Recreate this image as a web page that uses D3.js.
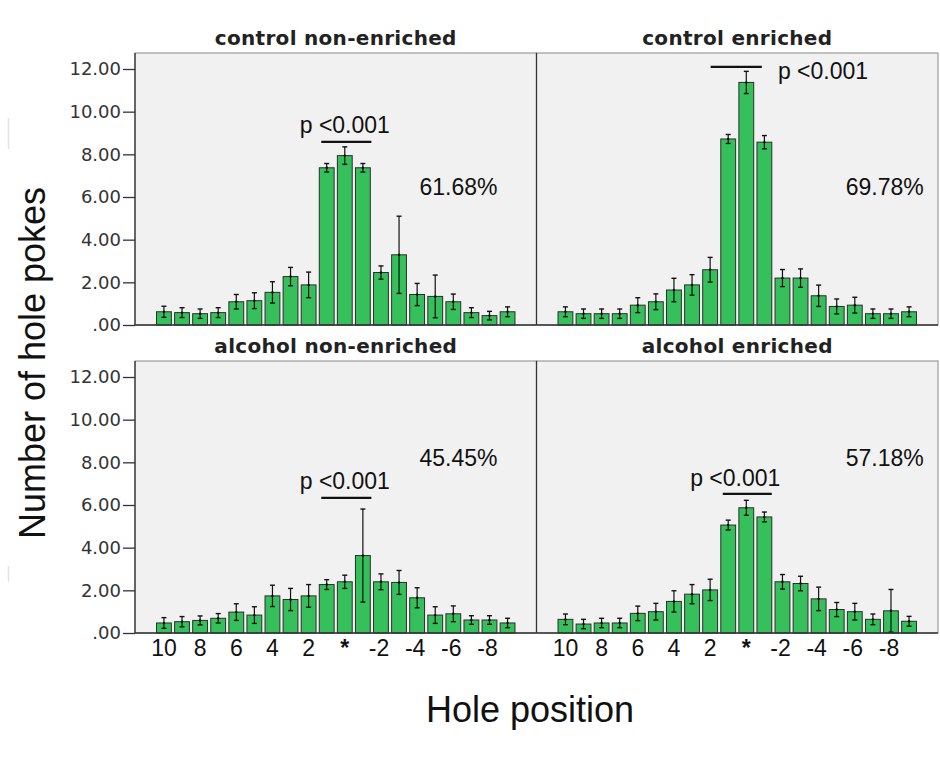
<!DOCTYPE html>
<html>
<head>
<meta charset="utf-8">
<script src="https://cdn.jsdelivr.net/npm/d3@7"></script>
<style>
  body { margin: 0; background: #fff; }
  svg { display: block; }
</style>
</head>
<body>
<svg id="chart" width="940" height="758"></svg>
<script>
// ---------- data ----------
const categories = ["10","9","8","7","6","5","4","3","2","1","*","-1","-2","-3","-4","-5","-6","-7","-8","-9"];
const xTickLabels = ["10","8","6","4","2","*","-2","-4","-6","-8"];
const yTicks = [0, 2, 4, 6, 8, 10, 12];
const panelTitles = ["control non-enriched", "control enriched", "alcohol non-enriched", "alcohol enriched"];

const controlNonEnriched    = [0.62,0.58,0.53,0.58,1.09,1.14,1.53,2.27,1.88,7.37,7.94,7.37,2.46,3.29,1.43,1.34,1.09,0.58,0.44,0.62];
const controlNonEnrichedErr = [0.26,0.23,0.22,0.23,0.34,0.37,0.50,0.43,0.60,0.20,0.41,0.20,0.31,1.81,0.52,1.00,0.36,0.23,0.20,0.23];
const controlEnriched       = [0.62,0.53,0.53,0.53,0.93,1.09,1.64,1.88,2.59,8.72,11.37,8.57,2.20,2.20,1.37,0.87,0.93,0.53,0.53,0.62];
const controlEnrichedErr    = [0.23,0.22,0.22,0.22,0.35,0.37,0.55,0.48,0.58,0.21,0.52,0.31,0.40,0.43,0.50,0.35,0.37,0.22,0.22,0.23];
const alcoholNonEnriched    = [0.47,0.53,0.59,0.69,0.98,0.84,1.74,1.57,1.74,2.27,2.40,3.63,2.40,2.37,1.65,0.84,0.90,0.61,0.61,0.47];
const alcoholNonEnrichedErr = [0.25,0.24,0.21,0.22,0.39,0.39,0.50,0.52,0.53,0.23,0.31,2.18,0.37,0.56,0.47,0.39,0.37,0.20,0.20,0.22];
const alcoholEnriched       = [0.64,0.42,0.47,0.47,0.92,1.00,1.48,1.82,2.02,5.06,5.87,5.44,2.40,2.32,1.60,1.10,1.00,0.64,1.04,0.55];
const alcoholEnrichedErr    = [0.25,0.22,0.22,0.22,0.34,0.39,0.50,0.45,0.50,0.23,0.35,0.23,0.34,0.34,0.55,0.33,0.39,0.25,1.00,0.23];

const percentLabels = ["61.68%", "69.78%", "45.45%", "57.18%"];
// annotation anchors: bar-index positions and data-unit heights
const percentIndex = [14.13, 15.5, 14.13, 15.5];
const percentValue = [6.1, 6.1, 7.83, 7.83];
const pTextIndex   = [10.0, 11.75, 10.0, 9.39];     // centre (or start for panel 2)
const pTextAnchor  = ["middle", "start", "middle", "middle"];
const pTextValue   = [9.0, 11.55, 6.75, 6.9];
const pLineFrom    = [8.7, 8.03, 8.7, 8.7];
const pLineTo      = [11.47, 10.86, 11.47, 11.41];
const pLineValue   = [8.58, 12.1, 6.33, 6.52];

const means = [controlNonEnriched, controlEnriched, alcoholNonEnriched, alcoholEnriched];
const errs  = [controlNonEnrichedErr, controlEnrichedErr, alcoholNonEnrichedErr, alcoholEnrichedErr];

// ---------- layout ----------
const svg = d3.select("#chart");
const panelW = 401.5, panelH = 272;
const left0 = 135, top0 = 53, rowGap = 308;
const colors = { fill: "#36c05b", stroke: "#2d2d2d", bg: "#f1f1f1" };

const x = d3.scaleBand().domain(categories).range([0, panelW]).paddingInner(0.18).paddingOuter(1.19);
const xi = d3.scaleLinear().domain([0, 19])
  .range([x(categories[0]) + x.bandwidth() / 2, x(categories[19]) + x.bandwidth() / 2]);
const y = d3.scaleLinear().domain([0, 12.75]).range([panelH, 0]);

// faint artefact lines at far left
svg.append("line").attr("x1", 8.5).attr("x2", 8.5).attr("y1", 118).attr("y2", 149).attr("stroke", "#e2e2e2").attr("stroke-width", 1.5);
svg.append("line").attr("x1", 8.5).attr("x2", 8.5).attr("y1", 566).attr("y2", 582).attr("stroke", "#e2e2e2").attr("stroke-width", 1.5);

panelTitles.forEach((title, p) => {
  const col = p % 2, row = Math.floor(p / 2);
  const g = svg.append("g").attr("transform", `translate(${left0 + col * panelW},${top0 + row * rowGap})`);

  g.append("rect").attr("x", 0).attr("y", 0).attr("width", panelW).attr("height", panelH)
    .attr("fill", colors.bg).attr("stroke", "#8a8a8a").attr("stroke-width", 1);

  g.append("text").attr("x", panelW / 2).attr("y", -8).attr("text-anchor", "middle")
    .attr("font-family", "DejaVu Sans, Verdana, sans-serif").attr("font-weight", "bold")
    .attr("font-size", 20).attr("fill", "#222").attr("letter-spacing", 0.3).text(title);

  const data = means[p].map((v, i) => ({ cat: categories[i], v, e: errs[p][i] }));

  g.selectAll("rect.bar").data(data).join("rect").attr("class", "bar")
    .attr("x", d => x(d.cat)).attr("width", x.bandwidth())
    .attr("y", d => y(d.v)).attr("height", d => y(0) - y(d.v))
    .attr("fill", colors.fill).attr("stroke", colors.stroke).attr("stroke-width", 1);

  const eb = g.selectAll("g.err").data(data).join("g").attr("class", "err")
    .attr("transform", d => `translate(${x(d.cat) + x.bandwidth() / 2},0)`);
  eb.append("line").attr("y1", d => y(d.v + d.e)).attr("y2", d => y(Math.max(0, d.v - d.e)))
    .attr("stroke", "#111").attr("stroke-width", 1.2);
  eb.append("line").attr("x1", -2.5).attr("x2", 2.5).attr("y1", d => y(d.v + d.e)).attr("y2", d => y(d.v + d.e))
    .attr("stroke", "#111").attr("stroke-width", 1.4);
  eb.append("line").attr("x1", -2.5).attr("x2", 2.5).attr("y1", d => y(Math.max(0, d.v - d.e))).attr("y2", d => y(Math.max(0, d.v - d.e)))
    .attr("stroke", "#111").attr("stroke-width", 1.4);
  eb.append("circle").attr("cy", d => y(d.v)).attr("r", 1.2).attr("fill", "#111");

  // baseline
  g.append("line").attr("x1", 0).attr("x2", panelW).attr("y1", y(0)).attr("y2", y(0))
    .attr("stroke", "#333").attr("stroke-width", 1.5);
  // divider / y axis line
  g.append("line").attr("x1", col === 0 ? 0 : 0).attr("x2", 0).attr("y1", 0).attr("y2", panelH)
    .attr("stroke", "#333").attr("stroke-width", 1.3);

  if (col === 0) {
    const ya = g.append("g").call(d3.axisLeft(y).tickValues(yTicks).tickSize(12).tickPadding(2)
      .tickFormat(d => d === 0 ? ".00" : d.toFixed(2)));
    ya.select(".domain").remove();
    ya.selectAll("line").attr("stroke", "#333").attr("stroke-width", 1.3);
    ya.selectAll("text").attr("font-family", "DejaVu Sans, Verdana, sans-serif").attr("font-size", 18).attr("fill", "#333");
  }
  if (row === 1) {
    const xa = g.append("g").attr("transform", `translate(0,${panelH})`)
      .call(d3.axisBottom(x).tickValues(xTickLabels).tickSize(0).tickPadding(7));
    xa.select(".domain").remove();
    xa.selectAll("text").attr("font-family", "Liberation Sans, Arial, sans-serif").attr("font-size", 23).attr("fill", "#111")
      .attr("font-weight", d => d === "*" ? "bold" : "normal")
      .attr("dx", d => d.startsWith("-") ? -2 : 0);
  }

  // percentage
  g.append("text").attr("x", xi(percentIndex[p])).attr("y", y(percentValue[p]))
    .attr("font-family", "Liberation Sans, Arial, sans-serif").attr("font-size", 23).attr("fill", "#111")
    .text(percentLabels[p]);
  // significance
  g.append("text").attr("x", xi(pTextIndex[p])).attr("y", y(pTextValue[p])).attr("text-anchor", pTextAnchor[p])
    .attr("font-family", "Liberation Sans, Arial, sans-serif").attr("font-size", 23).attr("fill", "#111")
    .text("p <0.001");
  g.append("line").attr("x1", xi(pLineFrom[p])).attr("x2", xi(pLineTo[p]))
    .attr("y1", y(pLineValue[p])).attr("y2", y(pLineValue[p]))
    .attr("stroke", "#111").attr("stroke-width", 2.2);
});

// axis titles
svg.append("text").attr("transform", "translate(45,363) rotate(-90)").attr("text-anchor", "middle")
  .attr("font-family", "Liberation Sans, Arial, sans-serif").attr("font-size", 36).attr("fill", "#111")
  .text("Number of hole pokes");
svg.append("text").attr("x", 530).attr("y", 722).attr("text-anchor", "middle")
  .attr("font-family", "Liberation Sans, Arial, sans-serif").attr("font-size", 36).attr("fill", "#111")
  .text("Hole position");
</script>
</body>
</html>
